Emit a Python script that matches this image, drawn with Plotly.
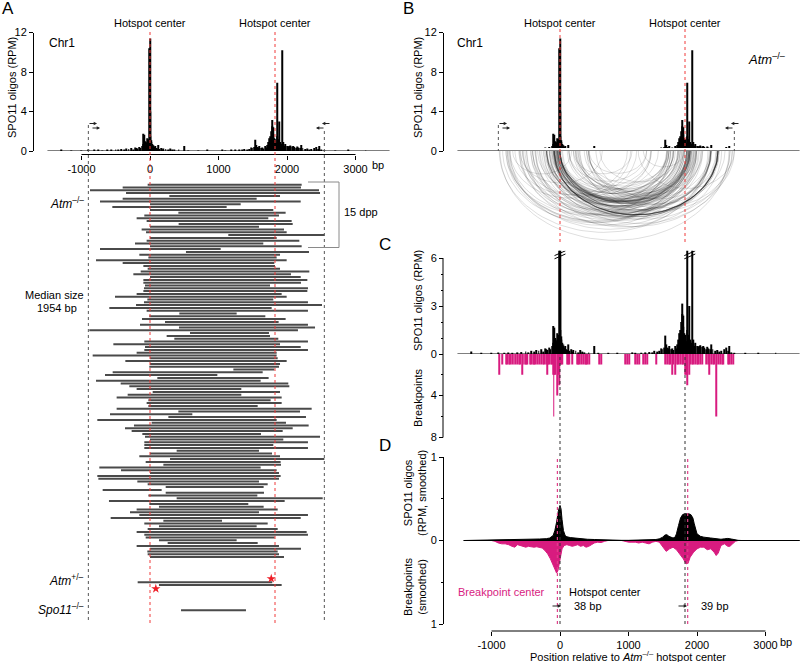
import numpy as np
import plotly.graph_objects as go

W, H = 800, 662
FONT = "Liberation Sans, Arial, sans-serif"
PINK = "#d81b7f"

def X(p):
    return p / W

def Y(p):
    return 1 - p / H

# ---------------- data ----------------
# SPO11-oligo profile (bp relative to hotspot centre, RPM)
oligo_pos = [-1290, -1150, -1000, -900, -820, -760, -700, -620, -560, -500, -470, -420, -380, -350,
             -310, -280, -250, -220, -200, -180, -160, -140, -120, -105, -95, -88, -80, -72, -65, -58,
             -50, -42, -35, -28, -20, -12, -5, 0, 5, 10, 18, 25, 32, 40, 48, 55, 65, 75, 90, 100,
             117, 135, 160, 180, 200, 230, 260, 300, 330, 360, 420, 505, 560, 700, 830, 1050, 1100,
             1180, 1250, 1300, 1340, 1380, 1420, 1450, 1480, 1500, 1520, 1538, 1550, 1565, 1580, 1600,
             1620, 1640, 1660, 1680, 1700, 1715, 1730, 1745, 1760, 1770, 1780, 1790, 1798, 1806, 1815,
             1825, 1835, 1845, 1855, 1862, 1870, 1880, 1888, 1897, 1905, 1915, 1928, 1940, 1950, 1965,
             1980, 2000, 2015, 2030, 2050, 2070, 2090, 2110, 2130, 2150, 2170, 2190, 2210, 2230, 2260,
             2290, 2320, 2360, 2400, 2430, 2450, 2470, 2500, 2540, 2700, 2900, 3150]
oligo_val = [0.15, 0.05, 0.05, 0.1, 0.08, 0.1, 0.05, 0.1, 0.12, 0.15, 0.1, 0.2, 0.15, 0.25,
             0.2, 0.3, 0.15, 0.35, 0.3, 0.25, 0.4, 0.3, 0.5, 0.7, 1.75, 1.65, 0.9, 0.6, 1.0, 0.8,
             0.7, 1.3, 0.9, 1.2, 0.8, 1.0, 10.4, 11.4, 4.0, 1.5, 1.1, 0.9, 0.7, 0.6, 0.5, 0.6, 0.4, 0.5, 0.3, 0.25,
             0.6, 0.2, 0.3, 0.15, 0.25, 0.2, 0.1, 0.25, 0.15, 0.1, 0.1, 0.5, 0.05, 0.05, 0.08, 0.1, 0.05,
             0.08, 0.1, 0.12, 0.1, 0.2, 0.15, 0.2, 0.35, 0.3, 0.4, 1.15, 0.6, 0.4, 0.35, 0.5,
             0.3, 0.35, 0.25, 0.5, 0.35, 0.6, 0.9, 1.3, 1.5, 2.0, 3.15, 2.5, 1.7, 2.4, 1.3,
             0.9, 1.2, 0.8, 1.5, 6.9, 1.2, 0.7, 3.0, 0.9, 0.8, 0.7, 10.2, 0.9, 0.6, 0.5,
             0.7, 0.5, 0.45, 0.5, 0.55, 0.45, 0.5, 0.4, 0.3, 0.45, 0.35, 0.3, 0.6, 0.3, 0.2,
             0.25, 0.15, 0.2, 0.3, 0.4, 0.2, 0.5, 0.1, 0.05, 0.05, 0.08, 0.05]

hotspot_centers = [0, 1825]
primers = [-900, 2545]

# Atm-/- products (start, end in bp)
atm_start = [-34, -399, -876, -350, 282, -399, -730, 0, -550, 0, 414, -83, -195, -49, 418, 0, -122, -58,
             1143, 0, -49, -219, 0, -730, 525, -156,
             -24, -788, -399, -97, -34, -136, -243, 0, -97, -97, -73, -88, -97, -195, -511, -39, -88, -204,
             -594, -49, 428, -10, -117, 219, -146, 423, -886,
             584, 243, 355, -83, -535, -73, -83, -195, -837, 0, -360, 0, -10, 1217, -545, -657, 107, -788,
             -428, -302, -195, 39, -326, -487, -24, -49, -24,
             -487, 414, -584, 268, -769, 24, -234, -365, -268, -112, -73, 0, -83, -83, -83, 389, 0, -156,
             292, -63, 195, -740, -423, 0, -769, -754, -185,
             -34, 229, -691, 229, -24, 389, -599, -10, 131, -195, -292, -156, -574, 195, -83, 131, -34,
             -195, -83, -63, 131, 258, -195, 0, -39, -34, 0]
atm_end = [2214, 2204, 2467, 2482, 1898, 1557, 2200, 1324, 1119, 1800, 1980, 1883, 1727, 2068, 2083, 1591,
           1956, 1995, 2545, 1849, 2180, 1654, 2214, 1032, 2321, 1898,
           1849, 1995, 1815, 1825, 1898, 2326, 2058, 2200, 2297, 2204, 1752, 2306, 2297, 1922, 1995, 1800,
           2306, 2511, 1776, 2306, 1265, 1684, 1980, 1878, 2306, 2409, 2160,
           1737, 1752, 1873, 2306, 1898, 2200, 2306, 1849, 1849, 1864, 1995, 1898, 1883, 1815, 1645, 983,
           1732, 1615, 2019, 2034, 1333, 1898, 1333, 1922, 1761, 1922, 1572,
           2360, 2190, 618, 2277, 1849, 1985, 2316, 2083, 1937, 1620, 2482, 1946, 2306, 1800, 2306, 1591,
           1781, 1898, 2545, 1907, 1912, 1615, 1849, 1883, 1907, 1883, 1591,
           1718, 1659, 170, 1664, 1567, 2521, 1966, 1435, 1659, 1864, 1591, 2306, 2200, 1051, 1718, 1557,
           1864, 2287, 2306, 1820, 1265, 1572, 1883, 2204, 1864, 1883, 1956]
het_start = [-180, 131]
het_end = [1785, 1922]
spo_start = [453]
spo_end = [1401]
star_bp = [1770, 85]

# breakpoint counts (panel C)
bp_pos = [-881, -847, -783, -764, -744, -725, -701, -676, -652, -628, -599, -579, -550, -530, -511, -491,
          -472, -433, -414, -394, -375, -355, -326, -297, -277, -248, -224, -200, -190, -170, -151, -131,
          -117, -102, -92, -78, -63, -44, -29, -15, 0, 19, 39, 102, 122, 141, 180, 248, 268, 287, 307,
          345, 365, 384, 404, 428, 579, 603,
          954, 978, 1017, 1100, 1134, 1163, 1212, 1246, 1280, 1406, 1538, 1562, 1591, 1611, 1635, 1659,
          1688, 1708, 1732, 1757, 1781, 1805, 1830, 1849, 1864, 1883, 1903, 1927, 1951, 1976, 2000, 2024,
          2049, 2073, 2136, 2161, 2185, 2209, 2234, 2258, 2282, 2316, 2340, 2365, 2389, 2452, 2477, 2501,
          2525]
bp_count = [2, 1, 1, 1, 1, 1, 1, 1, 1, 1, 1, 1, 2, 1, 1, 1,
            1, 1, 1, 1, 1, 1, 1, 1, 1, 1, 1, 1, 2, 1, 1, 1,
            1, 2, 6, 2, 2, 4, 2, 3, 1, 1, 1, 1, 1, 1, 1, 1, 1, 1, 1,
            1, 1, 1, 1, 1, 1, 1,
            1, 1, 1, 1, 1, 1, 1, 1, 1, 1, 1, 1, 1, 1, 2, 1,
            2, 1, 1, 1, 1, 1, 2, 2, 3, 2, 1, 1, 1, 1, 1, 1,
            1, 1, 1, 1, 2, 1, 1, 1, 6, 1, 1, 1, 1, 1, 1, 1,
            1]

# smoothed profiles
sm_oligo_pos = [-1400, -1100, -900, -700, -500, -400, -300, -200, -150, -100, -75, -50, -25, 0, 15, 30, 50,
                75, 100, 150, 200, 300, 400, 500, 600, 700, 800, 900, 1000, 1100, 1200, 1300, 1400, 1450,
                1500, 1530, 1560, 1590, 1620, 1650, 1680, 1700, 1730, 1760, 1790, 1820, 1850, 1880, 1910,
                1940, 1960, 1980, 2000, 2050, 2100, 2200, 2300, 2350, 2400, 2450, 2500, 2550, 2600, 2650, 3500]
sm_oligo_val = [0, 0.003, 0.005, 0.008, 0.012, 0.015, 0.018, 0.022, 0.03, 0.06, 0.12, 0.22, 0.35, 0.42, 0.38,
                0.25, 0.12, 0.06, 0.045, 0.035, 0.03, 0.02, 0.015, 0.012, 0.008, 0.005, 0.003, 0.002, 0.002,
                0.004, 0.006, 0.008, 0.012, 0.02, 0.04, 0.065, 0.07, 0.05, 0.035, 0.03, 0.04, 0.08, 0.18,
                0.27, 0.31, 0.32, 0.32, 0.32, 0.31, 0.27, 0.2, 0.12, 0.08, 0.05, 0.04, 0.03, 0.02, 0.015,
                0.02, 0.025, 0.018, 0.008, 0.002, 0, 0]
sm_bp_pos = [-1000, -950, -900, -850, -800, -750, -700, -660, -620, -580, -540, -500, -460, -420, -380, -340,
             -300, -260, -220, -180, -140, -100, -70, -50, -30, 0, 30, 60, 100, 140, 180, 220, 260, 300, 340,
             380, 420, 460, 500, 550, 600, 650, 700, 900, 950, 1000, 1050, 1100, 1150, 1200, 1250, 1300,
             1350, 1400, 1450, 1500, 1550, 1600, 1650, 1700, 1750, 1800, 1840, 1870, 1900, 1950, 2000, 2050,
             2100, 2150, 2200, 2250, 2280, 2310, 2350, 2400, 2450, 2480, 2520, 2560, 2600]
sm_bp_val = [0, 0.01, 0.03, 0.04, 0.04, 0.05, 0.07, 0.08, 0.05, 0.06, 0.075, 0.08, 0.07, 0.075, 0.08, 0.075,
             0.08, 0.09, 0.12, 0.16, 0.22, 0.3, 0.37, 0.39, 0.36, 0.22, 0.1, 0.06, 0.05, 0.06, 0.07, 0.06, 0.05,
             0.07, 0.06, 0.08, 0.07, 0.05, 0.03, 0.02, 0.025, 0.01, 0, 0, 0.01, 0.02, 0.02, 0.02, 0.03, 0.02,
             0.03, 0.04, 0.02, 0.01, 0.02, 0.07, 0.13, 0.1, 0.08, 0.11, 0.16, 0.22, 0.28, 0.27, 0.2, 0.14,
             0.1, 0.08, 0.08, 0.11, 0.1, 0.14, 0.18, 0.15, 0.06, 0.04, 0.07, 0.07, 0.04, 0.01, 0]
bp_centers = [-38, 1864]

# ---------------- geometry ----------------
BP_PX = 0.0685
A0, B0 = 150.0, 560.0
XR = [-1500, 3500]
A_dom = [X(A0 + XR[0] * BP_PX), X(A0 + XR[1] * BP_PX)]
B_dom = [X(B0 + XR[0] * BP_PX), X(B0 + XR[1] * BP_PX)]
ROW0, ROWH = 184.7, 2.8
ARC_K = BP_PX * 0.78

tickfont = dict(family=FONT, size=11, color="black")
base = dict(showgrid=False, zeroline=False)

fig = go.Figure()

for xa, ya in [("x", "y"), ("x3", "y3"), ("x5", "y5")]:
    fig.add_trace(go.Bar(x=oligo_pos, y=oligo_val, width=14, xaxis=xa, yaxis=ya,
                         marker=dict(color="black", line=dict(width=0))))

# Panel A products
n = len(atm_start)
rows = list(range(n))
het_rows = [n + 8, n + 9]
spo_rows = [n + 18]
lx, ly = [], []
for s, e, r in zip(atm_start + het_start + spo_start, atm_end + het_end + spo_end, rows + het_rows + spo_rows):
    lx += [s, e, None]
    ly += [r, r, None]
fig.add_trace(go.Scatter(x=lx, y=ly, mode="lines", line=dict(color="#4a4a4a", width=2),
                         xaxis="x2", yaxis="y2"))
fig.add_trace(go.Scatter(x=star_bp, y=[het_rows[0] - 1.3, het_rows[1] + 1.3], mode="markers",
                         marker=dict(symbol="star", size=7, color="#ee1c25"), xaxis="x2", yaxis="y2",
                         cliponaxis=False))

# Panel B arcs
t = np.linspace(0, np.pi, 61)
for s, e in zip(atm_start, atm_end):
    c, r = (s + e) / 2, (e - s) / 2
    fig.add_trace(go.Scatter(x=c + r * np.cos(t), y=-r * np.sin(t), mode="lines",
                             line=dict(color="rgba(0,0,0,0.13)", width=1), xaxis="x4", yaxis="y4"))

# Panel C breakpoints (downwards axis)
fig.add_trace(go.Bar(x=bp_pos, y=bp_count, width=13, marker=dict(color=PINK, line=dict(width=0)),
                     xaxis="x6", yaxis="y6"))

# Panel D smoothed
fig.add_trace(go.Scatter(x=sm_bp_pos, y=[-v for v in sm_bp_val], mode="lines", fill="tozeroy",
                         fillcolor=PINK, line=dict(color=PINK, width=1), xaxis="x7", yaxis="y7"))
fig.add_trace(go.Scatter(x=sm_oligo_pos, y=sm_oligo_val, mode="lines", fill="tozeroy",
                         fillcolor="black", line=dict(color="black", width=1), xaxis="x7", yaxis="y7"))

xt = dict(tickvals=[-1000, 0, 1000, 2000, 3000], ticktext=["-1000", "0", "1000", "2000", "3000"],
          ticks="outside", ticklen=4, tickcolor="black", tickfont=tickfont, showline=False)
yt = dict(ticks="outside", ticklen=4, tickcolor="black", tickfont=tickfont)

def minor(vals):
    return dict(tickmode="array", tickvals=vals, ticks="outside", ticklen=2.5, tickcolor="black")

y4_range = [(151 - 262) / ARC_K, (151 - 148) / ARC_K]

fig.update_layout(
    width=W, height=H, margin=dict(l=0, r=0, t=0, b=0, autoexpand=False),
    paper_bgcolor="white", plot_bgcolor="white", showlegend=False, hovermode=False,
    font=dict(family=FONT, size=11, color="black"),
    xaxis=dict(domain=A_dom, range=XR, anchor="free", position=Y(154.5), **xt, **base),
    yaxis=dict(domain=[Y(151), Y(32.5)], range=[0, 12], anchor="free", position=X(33), showline=True,
               linecolor="black", linewidth=1, tickvals=[0, 4, 8, 12], **yt, **base),
    xaxis2=dict(domain=A_dom, range=XR, anchor="y2", visible=False),
    yaxis2=dict(domain=[Y(625), Y(175)], range=[(625 - ROW0) / ROWH, (175 - ROW0) / ROWH],
                anchor="x2", visible=False),
    xaxis3=dict(domain=B_dom, range=XR, anchor="y3", visible=False),
    yaxis3=dict(domain=[Y(151), Y(32.5)], range=[0, 12], anchor="free", position=X(443), showline=True,
                linecolor="black", linewidth=1, tickvals=[0, 4, 8, 12], **yt, **base),
    xaxis4=dict(domain=B_dom, range=XR, anchor="y4", visible=False),
    yaxis4=dict(domain=[Y(262), Y(148)], range=y4_range, anchor="x4", visible=False),
    xaxis5=dict(domain=B_dom, range=XR, anchor="y5", visible=False),
    yaxis5=dict(domain=[Y(354), Y(354 - 6.45 * 16)], range=[0, 6.45], anchor="free", position=X(443),
                showline=False, tickvals=[0, 3, 6], minor=minor([1, 2, 4, 5]), **yt, **base),
    xaxis6=dict(domain=B_dom, range=XR, anchor="y6", visible=False),
    yaxis6=dict(domain=[Y(354 + 8.2 * 10.4), Y(354)], range=[8.2, 0], anchor="free", position=X(443),
                showline=False, tickvals=[4, 8], minor=minor([2, 6]), **yt, **base),
    xaxis7=dict(domain=B_dom, range=XR, anchor="free", position=Y(631), **xt, **base),
    yaxis7=dict(domain=[Y(624), Y(457)], range=[-1, 1], anchor="free", position=X(443), showline=True,
                linecolor="black", linewidth=1, tickvals=[-1, 0, 1], ticktext=["1", "0", "1"],
                minor=minor([-0.5, 0.5]), **yt, **base),
)

shapes = []
def line(x0, y0, x1, y1, xref="paper", yref="paper", color="black", width=1, dash="solid"):
    shapes.append(dict(type="line", x0=x0, y0=y0, x1=x1, y1=y1, xref=xref, yref=yref,
                       line=dict(color=color, width=width, dash=dash), layer="above"))

# axis lines / baselines
line(-1000, Y(154.5), 3000, Y(154.5), xref="x")
line(-1000, Y(631), 3000, Y(631), xref="x7")
line(X(443), Y(258), X(443), Y(437.5))
line(XR[0], 0, XR[1], 0, "x", "y", width=1.2)
line(XR[0], 0, XR[1], 0, "x3", "y3", width=1.2)
line(XR[0], 0, XR[1], 0, "x5", "y5", width=1.2)
line(-1410, 0, XR[1], 0, "x7", "y7", width=1.2)

# dotted guide lines
for hc in hotspot_centers:
    line(hc, Y(623), hc, Y(29), xref="x", color="#f03a3a", dash="dot")
    line(hc, Y(242), hc, Y(29), xref="x3", color="#f03a3a", dash="dot")
    line(hc, Y(624), hc, Y(354), xref="x5", color="#333333", dash="dot")
for pc in bp_centers:
    line(pc, Y(624), pc, Y(457), xref="x7", color="#e0408a", dash="dot", width=1.2)
line(primers[0], Y(125), primers[0], Y(623), xref="x", color="#555555", dash="dot")
line(primers[1], Y(131), primers[1], Y(623), xref="x", color="#555555", dash="dot")
line(primers[0], Y(125), primers[0], Y(151), xref="x3", color="#555555", dash="dot")
line(primers[1], Y(131), primers[1], Y(151), xref="x3", color="#555555", dash="dot")

# axis break marks in C
for bx in [0, 1895]:
    for dy in [0, 0.2]:
        line(bx - 80, 5.95 + dy, bx + 80, 6.25 + dy, "x5", "y5", width=1)

# 15 dpp bracket
for a in [(308, 182, 339, 182), (339, 182, 339, 247.5), (308, 247.5, 339, 247.5)]:
    line(X(a[0]), Y(a[1]), X(a[2]), Y(a[3]), color="#8a8a8a", width=1)

fig.update_layout(shapes=shapes)

ann = []
def txt(x, y, s, size=11, color="black", xanchor="center", angle=0):
    ann.append(dict(x=X(x), y=Y(y), xref="paper", yref="paper", text=s, showarrow=False,
                    font=dict(family=FONT, size=size, color=color), xanchor=xanchor, yanchor="middle",
                    textangle=angle))

def arrow(hx, hy, dx):
    ann.append(dict(x=X(hx), y=Y(hy), xref="paper", yref="paper", text="", showarrow=True,
                    ax=-dx, ay=0, arrowhead=2, arrowsize=0.6, arrowwidth=1.1, arrowcolor="#222222"))

txt(8, 8, "A", size=17)
txt(408, 8, "B", size=17)
txt(385, 244, "C", size=17)
txt(385, 445, "D", size=17)
for cx in [150, 275, 560, 685]:
    txt(cx, 23, "Hotspot center")
txt(47, 43, "Chr1", size=12, xanchor="left")
txt(455, 43, "Chr1", size=12, xanchor="left")
txt(788, 59, "<i>Atm</i><sup>–/–</sup>", size=13, xanchor="right")
txt(12, 88, "SPO11 oligos (RPM)", angle=-90)
txt(418, 88, "SPO11 oligos (RPM)", angle=-90)
txt(418, 301, "SPO11 oligos (RPM)", angle=-90)
txt(418, 398, "Breakpoints", angle=-90)
txt(415, 493, "SPO11 oligos<br>(RPM, smoothed)", angle=-90)
txt(415, 587, "Breakpoints<br>(smoothed)", angle=-90)
txt(370, 165, "bp", xanchor="left")
txt(778, 642, "bp", xanchor="left")
txt(628, 656, "Position relative to <i>Atm</i><sup>–/–</sup> hotspot center")
txt(86, 203, "<i>Atm</i><sup>–/–</sup>", size=12, xanchor="right")
txt(54, 295, "Median size")
txt(57, 308, "1954 bp")
txt(86, 580, "<i>Atm</i><sup>+/–</sup>", size=12, xanchor="right")
txt(86, 609, "<i>Spo11</i><sup>–/–</sup>", size=12, xanchor="right")
txt(342, 212, "15 dpp", xanchor="left")
txt(502, 592, "Breakpoint center", color=PINK)
txt(605, 592, "Hotspot center")
txt(572, 606, "38 bp", xanchor="left")
txt(699, 606, "39 bp", xanchor="left")
arrow(561, 606, 10)
arrow(687, 606, 10)
# primer arrows
arrow(97, 123.5, 9)
arrow(100, 128, 9)
arrow(322, 123.5, -9)
arrow(316, 128, -9)
arrow(507, 123.5, 9)
arrow(510, 128, 9)
arrow(731, 123.5, -9)
arrow(725, 128, -9)

fig.update_layout(annotations=ann)
fig.write_html("out.html", config={"displayModeBar": False},
               post_script="document.body.style.margin='0';document.body.style.overflow='hidden';")
